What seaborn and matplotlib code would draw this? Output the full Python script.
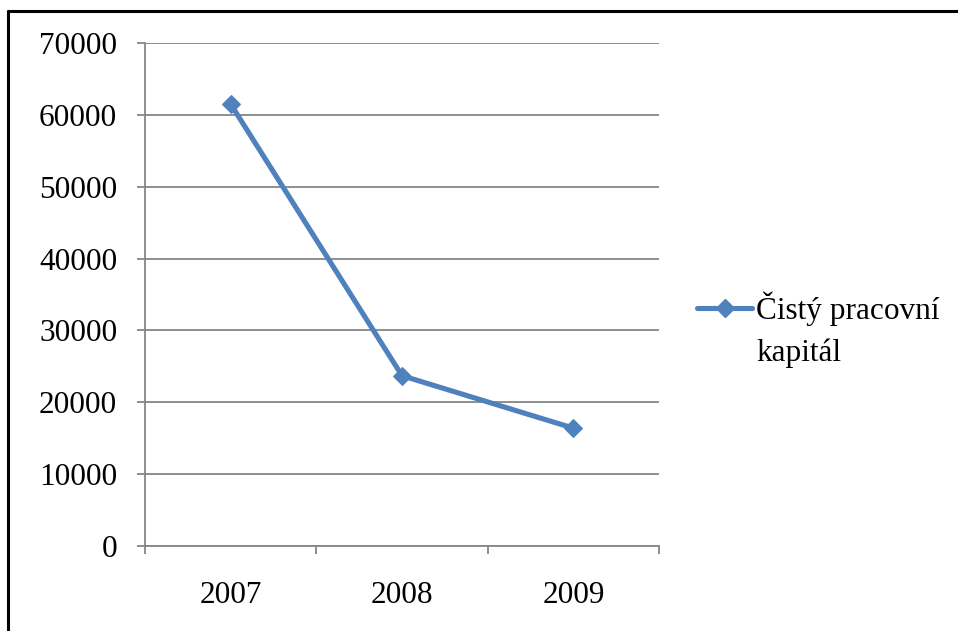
import matplotlib
matplotlib.use("Agg")
import matplotlib.pyplot as plt
import seaborn as sns
import pandas as pd
from matplotlib.lines import Line2D

years = ["2007", "2008", "2009"]
values = [61500, 23700, 16400]
series_name = "Čistý pracovní\nkapitál"
y_ticks = [0, 10000, 20000, 30000, 40000, 50000, 60000, 70000]

sns.set_theme(style="white")
plt.rcParams['font.family'] = ['Liberation Serif', 'DejaVu Serif']
plt.rcParams['text.color'] = 'black'

df = pd.DataFrame({"year": years, "value": values})
df["pos"] = range(len(years))

W, H = 958, 631
fig = plt.figure(figsize=(W / 100, H / 100), dpi=100)
ax = fig.add_axes([145/W, 1-546/H, (659-145)/W, (546-43)/H])

blue = "#4F81BD"
grey = "#868686"
sns.lineplot(data=df, x="pos", y="value", ax=ax, color=blue, linewidth=3.7,
             marker="D", markersize=9, markeredgecolor=blue, legend=False)

ax.set_xlim(-0.5, len(years) - 0.5)
ax.set_ylim(0, 70000)
ax.set_yticks(y_ticks)
ax.set_yticklabels([str(t) for t in y_ticks])
ax.set_xticks(range(len(years)))
ax.set_xticklabels(years)
ax.set_xticks([i - 0.5 for i in range(len(years) + 1)], minor=True)
ax.set_xlabel("")
ax.set_ylabel("")

ax.yaxis.grid(True, color=grey, linewidth=1.3)
ax.xaxis.grid(False)
ax.set_axisbelow(True)
for s in ["top", "right"]:
    ax.spines[s].set_visible(False)
for s in ["left", "bottom"]:
    ax.spines[s].set_color(grey)
    ax.spines[s].set_linewidth(1.3)

ax.tick_params(axis="y", which="major", length=6, width=1.3, color=grey,
               labelsize=22.5, pad=14, left=True, labelcolor="black")
ax.tick_params(axis="x", which="major", length=0, labelsize=22.5, pad=25,
               labelcolor="black")
ax.tick_params(axis="x", which="minor", length=6, width=1.3, color=grey,
               bottom=True)

# legend: handle aligned with the first line of the series name
name_lines = series_name.split("\n")
handle = Line2D([], [], color=blue, linewidth=3.7, marker="D", markersize=9,
                markeredgecolor=blue)
leg = fig.legend([handle], [name_lines[0]], loc="upper left",
                 bbox_to_anchor=(697/W, 1-291/H), frameon=False,
                 fontsize=22.5, handlelength=1.76, handletextpad=0.13,
                 borderpad=0, borderaxespad=0, labelcolor="black")
fig.canvas.draw()
bb = leg.get_texts()[0].get_window_extent()
for i, extra in enumerate(name_lines[1:], start=1):
    fig.text(bb.x0 / W, (bb.y0 - 43 * i) / H, extra, fontsize=22.5,
             ha="left", va="bottom", color="black")

# outer frame (top and left edges visible in the crop)
fig.add_artist(Line2D([8/W, 8/W], [0, 1-11/H], transform=fig.transFigure,
                      color="black", linewidth=2.2))
fig.add_artist(Line2D([8/W, 1], [1-11/H, 1-11/H], transform=fig.transFigure,
                      color="black", linewidth=2.2))

fig.savefig("out.png", dpi=100)
